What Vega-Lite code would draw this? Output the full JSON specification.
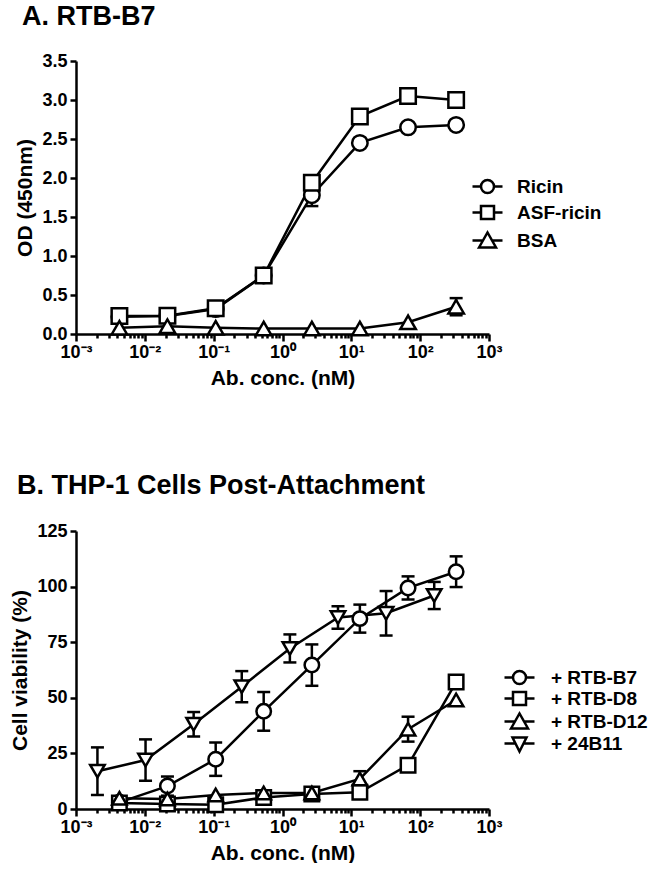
{
  "$schema": "https://vega.github.io/schema/vega-lite/v6.json",
  "background": "white",
  "padding": {"left": 9, "top": 3, "right": 0, "bottom": 0},
  "spacing": 84,
  "config": {
    "font": "Liberation Sans",
    "view": {"stroke": null},
    "axis": {
      "grid": false,
      "domainColor": "black", "domainWidth": 2.5,
      "tickColor": "black", "tickWidth": 2.5,
      "labelColor": "black", "labelFont": "Liberation Sans", "labelFontWeight": "bold", "labelFontSize": 18,
      "titleColor": "black", "titleFont": "Liberation Sans", "titleFontWeight": "bold", "titleFontSize": 21
    },
    "title": {"font": "Liberation Sans", "fontWeight": "bold", "fontSize": 27, "color": "black", "anchor": "start", "frame": "bounds"}
  },
  "datasets": {
    "a": [
      {"series": "Ricin", "conc": 0.00427, "od": 0.22},
      {"series": "Ricin", "conc": 0.0213, "od": 0.23},
      {"series": "Ricin", "conc": 0.107, "od": 0.32},
      {"series": "Ricin", "conc": 0.533, "od": 0.75},
      {"series": "Ricin", "conc": 2.67, "od": 1.78, "lo": 1.64, "hi": 1.92},
      {"series": "Ricin", "conc": 13.3, "od": 2.45},
      {"series": "Ricin", "conc": 66.7, "od": 2.65},
      {"series": "Ricin", "conc": 333, "od": 2.68},
      {"series": "ASF-ricin", "conc": 0.00427, "od": 0.23},
      {"series": "ASF-ricin", "conc": 0.0213, "od": 0.235},
      {"series": "ASF-ricin", "conc": 0.107, "od": 0.33},
      {"series": "ASF-ricin", "conc": 0.533, "od": 0.75},
      {"series": "ASF-ricin", "conc": 2.67, "od": 1.94},
      {"series": "ASF-ricin", "conc": 13.3, "od": 2.79},
      {"series": "ASF-ricin", "conc": 66.7, "od": 3.05},
      {"series": "ASF-ricin", "conc": 333, "od": 3.0},
      {"series": "BSA", "conc": 0.00427, "od": 0.08},
      {"series": "BSA", "conc": 0.0213, "od": 0.1},
      {"series": "BSA", "conc": 0.107, "od": 0.08},
      {"series": "BSA", "conc": 0.533, "od": 0.07},
      {"series": "BSA", "conc": 2.67, "od": 0.07},
      {"series": "BSA", "conc": 13.3, "od": 0.07},
      {"series": "BSA", "conc": 66.7, "od": 0.15},
      {"series": "BSA", "conc": 333, "od": 0.35, "lo": 0.24, "hi": 0.46}
    ],
    "b": [
      {"series": "+ RTB-B7", "conc": 0.00427, "od": 3.0},
      {"series": "+ RTB-B7", "conc": 0.0213, "od": 10.3, "lo": 6.0, "hi": 14.6},
      {"series": "+ RTB-B7", "conc": 0.107, "od": 22.4, "lo": 14.9, "hi": 29.9},
      {"series": "+ RTB-B7", "conc": 0.533, "od": 43.9, "lo": 35.2, "hi": 52.6},
      {"series": "+ RTB-B7", "conc": 2.67, "od": 64.7, "lo": 55.4, "hi": 74.0},
      {"series": "+ RTB-B7", "conc": 13.3, "od": 85.6, "lo": 79.3, "hi": 91.9},
      {"series": "+ RTB-B7", "conc": 66.7, "od": 99.4, "lo": 94.2, "hi": 104.6},
      {"series": "+ RTB-B7", "conc": 333, "od": 106.7, "lo": 99.8, "hi": 113.6},
      {"series": "+ RTB-D8", "conc": 0.00427, "od": 2.7},
      {"series": "+ RTB-D8", "conc": 0.0213, "od": 2.2},
      {"series": "+ RTB-D8", "conc": 0.107, "od": 1.9},
      {"series": "+ RTB-D8", "conc": 0.533, "od": 5.2},
      {"series": "+ RTB-D8", "conc": 2.67, "od": 6.7},
      {"series": "+ RTB-D8", "conc": 13.3, "od": 7.5},
      {"series": "+ RTB-D8", "conc": 66.7, "od": 19.7, "lo": 17.2, "hi": 22.2},
      {"series": "+ RTB-D8", "conc": 333, "od": 57.1},
      {"series": "+ RTB-D12", "conc": 0.00427, "od": 4.8},
      {"series": "+ RTB-D12", "conc": 0.0213, "od": 4.5},
      {"series": "+ RTB-D12", "conc": 0.107, "od": 6.3},
      {"series": "+ RTB-D12", "conc": 0.533, "od": 7.2},
      {"series": "+ RTB-D12", "conc": 2.67, "od": 7.2},
      {"series": "+ RTB-D12", "conc": 13.3, "od": 13.5, "lo": 10.0, "hi": 17.0},
      {"series": "+ RTB-D12", "conc": 66.7, "od": 35.9, "lo": 30.3, "hi": 41.5},
      {"series": "+ RTB-D12", "conc": 333, "od": 49.0},
      {"series": "+ 24B11", "conc": 0.002048, "od": 17.0, "lo": 6.3, "hi": 27.7},
      {"series": "+ 24B11", "conc": 0.01024, "od": 22.0, "lo": 12.7, "hi": 31.3},
      {"series": "+ 24B11", "conc": 0.0512, "od": 38.1, "lo": 32.6, "hi": 43.6},
      {"series": "+ 24B11", "conc": 0.256, "od": 55.0, "lo": 48.0, "hi": 62.0},
      {"series": "+ 24B11", "conc": 1.28, "od": 72.2, "lo": 65.9, "hi": 78.5},
      {"series": "+ 24B11", "conc": 6.4, "od": 86.1, "lo": 81.0, "hi": 91.2},
      {"series": "+ 24B11", "conc": 32, "od": 88.0, "lo": 78.0, "hi": 98.0},
      {"series": "+ 24B11", "conc": 160, "od": 96.0, "lo": 89.9, "hi": 102.1}
    ]
  },
  "vconcat": [
    {
      "title": {"text": "A. RTB-B7", "offset": 21, "dx": 7},
      "width": 413,
      "height": 273,
      "data": {"name": "a"},
      "encoding": {
        "x": {"field": "conc", "type": "quantitative", "scale": {"type": "log", "domain": [0.001, 1000], "nice": false},
          "axis": {"title": "Ab. conc. (nM)", "values": [0.001,0.002,0.003,0.004,0.005,0.006,0.007,0.008,0.009,0.01,0.02,0.03,0.04,0.05,0.06,0.07,0.08,0.09,0.1,0.2,0.3,0.4,0.5,0.6,0.7,0.8,0.9,1,2,3,4,5,6,7,8,9,10,20,30,40,50,60,70,80,90,100,200,300,400,500,600,700,800,900,1000],
            "labelExpr": "abs(log(datum.value)/LN10 - round(log(datum.value)/LN10)) < 0.01 ? '10' + ['⁻³','⁻²','⁻¹','⁰','¹','²','³'][round(log(datum.value)/LN10)+3] : ''",
            "tickSize": {"condition": {"test": "abs(log(datum.value)/LN10 - round(log(datum.value)/LN10)) < 0.01", "value": 7}, "value": 4},
            "labelOverlap": false, "labelFlush": false, "labelBound": false, "labelPadding": 2, "titlePadding": 6}},
        "y": {"field": "od", "type": "quantitative", "scale": {"domain": [0, 3.5], "nice": false},
          "axis": {"title": "OD (450nm)", "values": [0,0.5,1,1.5,2,2.5,3,3.5], "format": ".1f", "tickSize": 6, "labelPadding": 3, "titlePadding": 6, "labelOverlap": false, "labelFlush": false, "labelBound": false}}
      },
      "layer": [
        {
          "mark": {"type": "line", "color": "black", "strokeWidth": 2.5},
          "encoding": {"detail": {"field": "series", "type": "nominal"}}
        },
        {
          "transform": [{"filter": "isValid(datum.lo)"}],
          "mark": {"type": "errorbar", "color": "black", "opacity": 1, "ticks": {"size": 13, "thickness": 2.5, "color": "black", "opacity": 1}, "rule": {"strokeWidth": 2.5, "color": "black", "opacity": 1}},
          "encoding": {
            "y": {"field": "lo", "type": "quantitative", "scale": {"domain": [0, 3.5], "nice": false},
              "axis": {"title": "OD (450nm)", "values": [0,0.5,1,1.5,2,2.5,3,3.5], "format": ".1f", "tickSize": 6, "labelPadding": 3, "titlePadding": 6, "labelOverlap": false, "labelFlush": false, "labelBound": false}},
            "y2": {"field": "hi"}
          }
        },
        {
          "mark": {"type": "point", "filled": true, "fill": "white", "stroke": "black", "strokeWidth": 2.5, "size": 240, "opacity": 1},
          "encoding": {
            "shape": {"field": "series", "type": "nominal", "scale": {"domain": ["Ricin", "ASF-ricin", "BSA"], "range": ["circle", "square", "triangle-up"]}, "legend": null}
          }
        },
        {
          "mark": {"type": "point", "opacity": 0, "size": 10},
          "encoding": {
            "shape": {"field": "series", "type": "nominal",
              "scale": {"domain": ["Ricin", "ASF-ricin", "BSA"], "range": [
                "M -3 0 L -1.3 0 M 1.3 0 L 3 0 M 1.3 0 A 1.3 1.3 0 1 1 -1.3 0 A 1.3 1.3 0 1 1 1.3 0 Z",
                "M -3 0 L -1.3 0 M 1.3 0 L 3 0 M -1.3 -1.3 L 1.3 -1.3 L 1.3 1.3 L -1.3 1.3 Z",
                "M -3 0 L -0.9 0 M 0.9 0 L 3 0 M -1.7 1.4 L 0 -1.6 L 1.7 1.4 Z"]},
              "legend": {"title": null, "orient": "none", "legendX": 402, "legendY": 116, "symbolSize": 100, "symbolOpacity": 1,
                "symbolStrokeWidth": 2.5, "symbolStrokeColor": "black", "symbolFillColor": "white",
                "labelFont": "Liberation Sans", "labelFontWeight": "bold", "labelFontSize": 19, "labelColor": "black",
                "labelOffset": 20, "rowPadding": 3,
                "encode": {"symbols": {"update": {"opacity": {"value": 1}, "stroke": {"value": "black"}, "strokeWidth": {"value": 2.5}, "fill": {"value": "white"}}}}}}
          }
        }
      ],
      "resolve": {"scale": {"shape": "independent"}}
    },
    {
      "title": {"text": "B. THP-1 Cells Post-Attachment", "offset": 22, "dx": 7},
      "width": 413,
      "height": 278,
      "data": {"name": "b"},
      "encoding": {
        "x": {"field": "conc", "type": "quantitative", "scale": {"type": "log", "domain": [0.001, 1000], "nice": false},
          "axis": {"title": "Ab. conc. (nM)", "values": [0.001,0.002,0.003,0.004,0.005,0.006,0.007,0.008,0.009,0.01,0.02,0.03,0.04,0.05,0.06,0.07,0.08,0.09,0.1,0.2,0.3,0.4,0.5,0.6,0.7,0.8,0.9,1,2,3,4,5,6,7,8,9,10,20,30,40,50,60,70,80,90,100,200,300,400,500,600,700,800,900,1000],
            "labelExpr": "abs(log(datum.value)/LN10 - round(log(datum.value)/LN10)) < 0.01 ? '10' + ['⁻³','⁻²','⁻¹','⁰','¹','²','³'][round(log(datum.value)/LN10)+3] : ''",
            "tickSize": {"condition": {"test": "abs(log(datum.value)/LN10 - round(log(datum.value)/LN10)) < 0.01", "value": 7}, "value": 4},
            "labelOverlap": false, "labelFlush": false, "labelBound": false, "labelPadding": 2, "titlePadding": 6}},
        "y": {"field": "od", "type": "quantitative", "scale": {"domain": [0, 125], "nice": false},
          "axis": {"title": "Cell viability (%)", "values": [0,25,50,75,100,125], "tickSize": 6, "labelPadding": 3, "titlePadding": 6, "labelOverlap": false, "labelFlush": false, "labelBound": false}}
      },
      "layer": [
        {
          "mark": {"type": "line", "color": "black", "strokeWidth": 2.5},
          "encoding": {"detail": {"field": "series", "type": "nominal"}}
        },
        {
          "transform": [{"filter": "isValid(datum.lo)"}],
          "mark": {"type": "errorbar", "color": "black", "opacity": 1, "ticks": {"size": 13, "thickness": 2.5, "color": "black", "opacity": 1}, "rule": {"strokeWidth": 2.5, "color": "black", "opacity": 1}},
          "encoding": {
            "y": {"field": "lo", "type": "quantitative", "scale": {"domain": [0, 125], "nice": false},
              "axis": {"title": "Cell viability (%)", "values": [0,25,50,75,100,125], "tickSize": 6, "labelPadding": 3, "titlePadding": 6, "labelOverlap": false, "labelFlush": false, "labelBound": false}},
            "y2": {"field": "hi"}
          }
        },
        {
          "mark": {"type": "point", "filled": true, "fill": "white", "stroke": "black", "strokeWidth": 2.5, "size": 210, "opacity": 1},
          "encoding": {
            "shape": {"field": "series", "type": "nominal", "scale": {"domain": ["+ RTB-B7", "+ RTB-D8", "+ RTB-D12", "+ 24B11"], "range": ["circle", "square", "triangle-up", "triangle-down"]}, "legend": null}
          }
        },
        {
          "mark": {"type": "point", "opacity": 0, "size": 10},
          "encoding": {
            "shape": {"field": "series", "type": "nominal",
              "scale": {"domain": ["+ RTB-B7", "+ RTB-D8", "+ RTB-D12", "+ 24B11"], "range": [
                "M -3 0 L -1.3 0 M 1.3 0 L 3 0 M 1.3 0 A 1.3 1.3 0 1 1 -1.3 0 A 1.3 1.3 0 1 1 1.3 0 Z",
                "M -3 0 L -1.3 0 M 1.3 0 L 3 0 M -1.3 -1.3 L 1.3 -1.3 L 1.3 1.3 L -1.3 1.3 Z",
                "M -3 0 L -0.9 0 M 0.9 0 L 3 0 M -1.7 1.4 L 0 -1.6 L 1.7 1.4 Z",
                "M -3 0 L -0.8 0 M 0.8 0 L 3 0 M -1.4 -1.2 L 1.4 -1.2 L 0 1.6 Z"]},
              "legend": {"title": null, "orient": "none", "legendX": 434, "legendY": 137, "symbolSize": 100, "symbolOpacity": 1,
                "symbolStrokeWidth": 2.5, "symbolStrokeColor": "black", "symbolFillColor": "white",
                "labelFont": "Liberation Sans", "labelFontWeight": "bold", "labelFontSize": 19, "labelColor": "black",
                "labelOffset": 22, "rowPadding": -2,
                "encode": {"symbols": {"update": {"opacity": {"value": 1}, "stroke": {"value": "black"}, "strokeWidth": {"value": 2.5}, "fill": {"value": "white"}}}}}}
          }
        }
      ],
      "resolve": {"scale": {"shape": "independent"}}
    }
  ]
}
